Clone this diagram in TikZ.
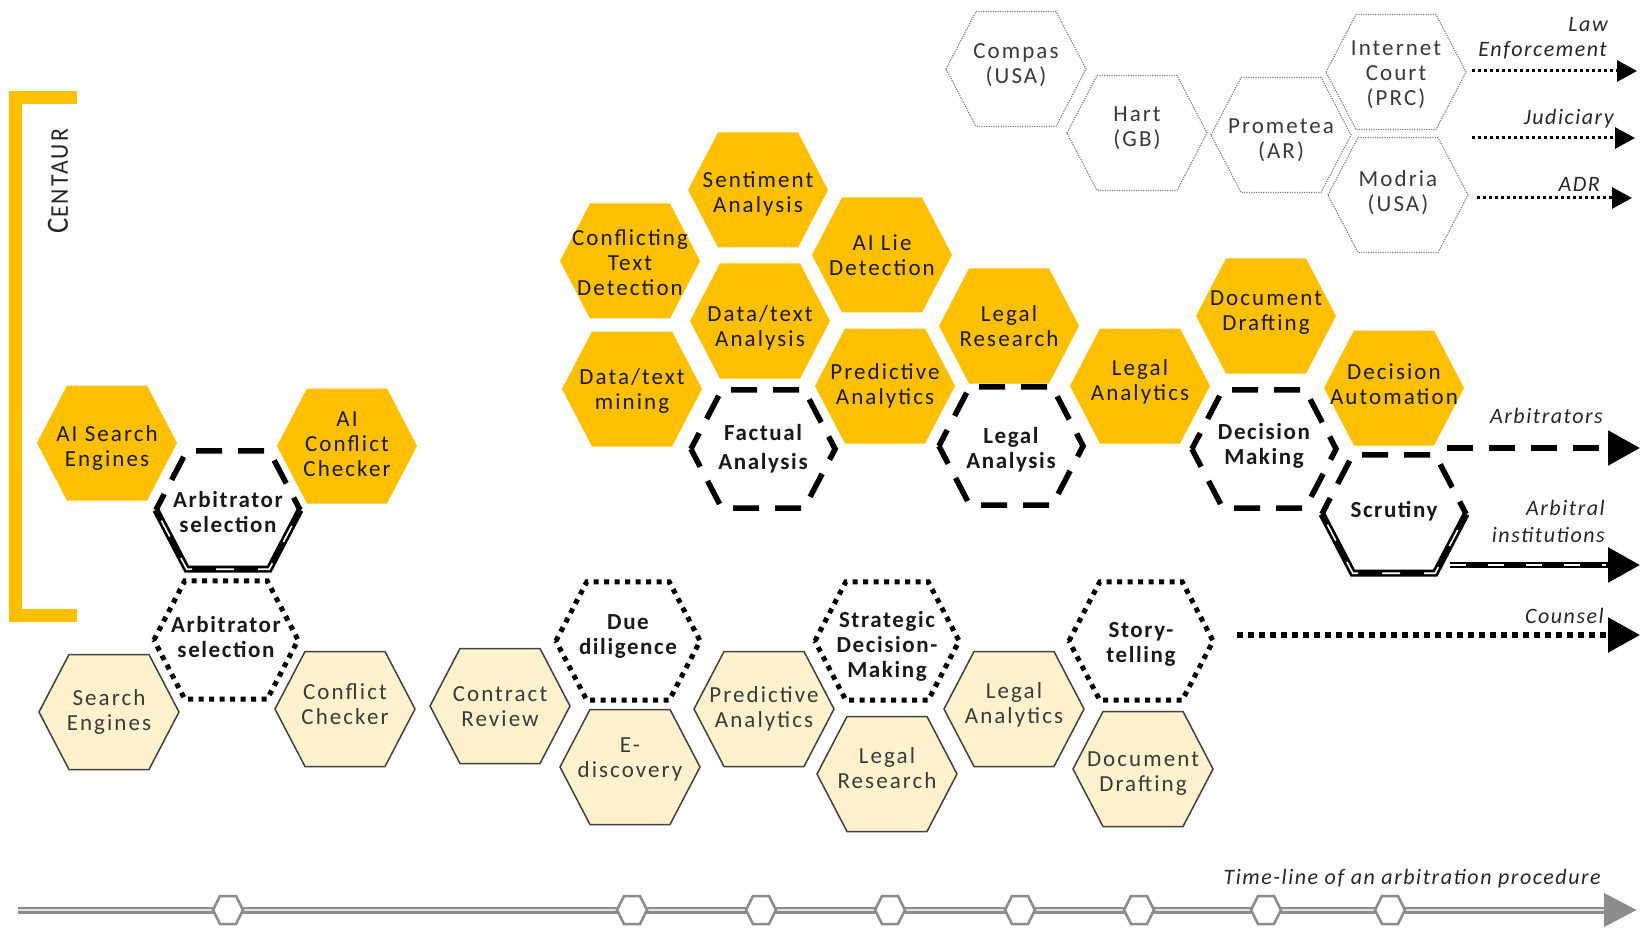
\documentclass[tikz,border=0pt]{standalone}
\usepackage{fontspec}
\usepackage{graphicx}
\setmainfont{Carlito}[LetterSpace=9,BoldFeatures={LetterSpace=7},ItalicFeatures={LetterSpace=7}]
\usetikzlibrary{arrows.meta}
\definecolor{gold}{HTML}{FFC000}
\definecolor{cream}{HTML}{FFF2CC}
\definecolor{edgegray}{HTML}{404040}
\definecolor{txtgray}{HTML}{3A3A3A}
\definecolor{dotgray}{HTML}{7F7F7F}
\definecolor{tlgray}{HTML}{8C8C8C}
\definecolor{tllight}{HTML}{E0E0E0}
\newcommand{\hexpath}[2]{\path[shift={(#2)},#1] (-70,0) -- (-40,-57.5) -- (40,-57.5) -- (70,0) -- (40,57.5) -- (-40,57.5) -- cycle;}
\newcommand{\hexnode}[5]{\hexpath{#1}{#3}\node[#5] (#2) at (#3) {#4};}
\newcommand{\splithex}[1]{%
  \path[shift={(#1)},dhex] (-70,0) -- (-40,-57.5) -- (40,-57.5) -- (70,0);
  \path[shift={(#1)},scale=1.03,draw=black,line width=7] (-70,0) -- (-40,57.5) -- (40,57.5) -- (70,0);
  \path[shift={(#1)},scale=1.03,draw=white,line width=1.6,dash pattern=on 18 off 24,dash phase=-12] (-70,0) -- (-40,57.5) -- (40,57.5) -- (70,0);}
\newcommand{\tlmark}[1]{\path[shift={(#1)},draw=tlgray,fill=white,line width=2.5] (-15,0) -- (-8,-14) -- (8,-14) -- (15,0) -- (8,14) -- (-8,14) -- cycle;}
\begin{document}
\begin{tikzpicture}[x=1pt,y=-1pt,
  yhex/.style={fill=gold},
  chex/.style={fill=cream,draw=edgegray,line width=1.5},
  thex/.style={fill=white,draw=dotgray,line width=1.2,dash pattern=on 1.2 off 1.2},
  dhex/.style={draw=black,line width=5.5,dash pattern=on 26 off 16,dash phase=8,scale=1.03},
  ohex/.style={draw=black,line width=5,dash pattern=on 5 off 5.5,scale=1.03},
  hx/.style={align=center,font=\fontsize{23}{25}\selectfont,inner sep=0pt},
  ytxt/.style={hx,text=black!90},
  ctxt/.style={hx,text=txtgray},
  btxt/.style={hx,font=\fontsize{23}{25}\selectfont\bfseries,text=black!90},
  lab/.style={font=\fontsize{22}{25}\selectfont\itshape,text=black!85,inner sep=0pt,anchor=base east},
  tarrow/.style={draw=black,line width=3,dash pattern=on 3 off 3,-{Triangle[length=20pt,width=21pt]}},
  bigtip/.style={-{Triangle[length=32pt,width=34pt]}}
]
\useasboundingbox (0,0) rectangle (1641,933);

% CENTAUR bracket
\draw[gold,line width=13] (77,98) -- (15,98) -- (15,615) -- (77,615);
\node[rotate=90,inner sep=0pt,text=black!85] (centaur) at (58,181) {\resizebox{104pt}{20pt}{\fontsize{23}{23}\selectfont C\fontsize{19}{19}\selectfont ENTAUR}};

% top-right systems
\hexnode{thex}{compas}{1016,69}{Compas\\(USA)}{ctxt,yshift=4pt}
\hexnode{thex}{hart}{1137,133}{Hart\\(GB)}{ctxt,yshift=5pt}
\hexnode{thex}{prom}{1281,135}{Prometea\\(AR)}{ctxt,yshift=-5pt}
\hexnode{thex}{inet}{1396,72}{Internet\\Court\\(PRC)}{ctxt,yshift=-3pt}
\hexnode{thex}{modria}{1398,195}{Modria\\(USA)}{ctxt,yshift=2pt}

% yellow AI tools
\hexnode{yhex}{sent}{758,190}{Sentiment\\Analysis}{ytxt,yshift=-4pt}
\hexnode{yhex}{conf}{630,261}{Conflicting\\Text\\Detection}{ytxt,yshift=-2pt}
\hexnode{yhex}{lie}{882,255}{AI Lie\\Detection}{ytxt}
\hexnode{yhex}{dta}{760,321}{Data/text\\Analysis}{ytxt,yshift=-7pt}
\hexnode{yhex}{dtm}{632,389}{Data/text\\mining}{ytxt,yshift=-2pt}
\hexnode{yhex}{pra}{885,386}{Predictive\\Analytics}{ytxt}
\hexnode{yhex}{lres}{1009,326}{Legal\\Research}{ytxt}
\hexnode{yhex}{lana}{1140,386}{Legal\\Analytics}{ytxt,yshift=4pt}
\hexnode{yhex}{ddr}{1266,316}{Document\\Drafting}{ytxt,yshift=3pt}
\hexnode{yhex}{dau}{1394,388}{Decision\\Automation}{ytxt,yshift=4pt}
\hexnode{yhex}{aise}{107,443}{AI Search\\Engines}{ytxt,yshift=-5pt}
\hexnode{yhex}{aicc}{347,446}{AI\\Conflict\\Checker}{ytxt,yshift=2pt}

% dashed tasks
\hexnode{dhex}{fact}{763,449}{Factual\\Analysis}{btxt,font=\fontsize{23}{29}\selectfont\bfseries}
\hexnode{dhex}{lanl}{1011,446}{Legal\\Analysis}{btxt,yshift=-4pt}
\hexnode{dhex}{dmk}{1264,449}{Decision\\Making}{btxt,yshift=3pt}
\splithex{228,510}
\node[btxt] (arb1) at (228,512) {Arbitrator\\selection};
\splithex{1394,514}
\node[btxt] (scr) at (1394,511) {Scrutiny};

% dotted tasks
\hexnode{ohex}{arb2}{226,640}{Arbitrator\\selection}{btxt,yshift=3pt}
\hexnode{ohex}{due}{628,641}{Due\\diligence}{btxt,yshift=5pt}
\hexnode{ohex}{sdm}{887,641}{Strategic\\Decision-\\Making}{btxt,yshift=-5pt}
\hexnode{ohex}{story}{1141,641}{Story-\\telling}{btxt,yshift=-3pt}

% light tools
\hexnode{chex}{se}{109,712}{Search\\Engines}{ctxt}
\hexnode{chex}{cc}{345,709}{Conflict\\Checker}{ctxt,yshift=5pt}
\hexnode{chex}{cr}{500,706}{Contract\\Review}{ctxt,yshift=-1pt}
\hexnode{chex}{ed}{630,767}{E-\\discovery}{ctxt,yshift=8pt}
\hexnode{chex}{pa2}{764,709}{Predictive\\Analytics}{ctxt}
\hexnode{chex}{lr2}{887,774}{Legal\\Research}{ctxt,yshift=6pt}
\hexnode{chex}{la2}{1014,709}{Legal\\Analytics}{ctxt,yshift=4pt}
\hexnode{chex}{dd2}{1143,769}{Document\\Drafting}{ctxt,yshift=-5pt}

% top arrows
\coordinate (lawS) at (1472,71); \coordinate (lawE) at (1637,71);
\coordinate (judS) at (1472,138); \coordinate (judE) at (1635,138);
\coordinate (adrS) at (1477,198); \coordinate (adrE) at (1632,198);
\draw[tarrow] (lawS) -- (lawE);
\draw[tarrow] (judS) -- (judE);
\draw[tarrow] (adrS) -- (adrE);
\node[lab] (lawA) at (1608,32) {Law};
\node[lab] (lawB) at (1607,57) {Enforcement};
\node[lab] (judL) at (1614,125) {Judiciary};
\node[lab] (adrL) at (1600,192) {ADR};

% lower arrows
\coordinate (arbS) at (1447,448); \coordinate (arbE) at (1640,448);
\draw[draw=black,line width=5.5,dash pattern=on 26 off 16,bigtip] (arbS) -- (arbE);
\coordinate (insS) at (1450,565); \coordinate (insE) at (1640,565); \coordinate (insM) at (1606,565);
\draw[draw=black,line width=6,bigtip] (insS) -- (insE);
\draw[draw=white,line width=1.5,dash pattern=on 16 off 22] (insS) -- (insM);
\coordinate (couS) at (1237,635); \coordinate (couE) at (1640,635);
\draw[draw=black,line width=5.5,dash pattern=on 5.5 off 5.5,bigtip] (couS) -- (couE);
\node[lab] (arbL) at (1603,423) {Arbitrators};
\node[lab] (insL1) at (1605,515) {Arbitral};
\node[lab] (insL2) at (1605,542) {institutions};
\node[lab] (couL) at (1604,623) {Counsel};

% timeline
\coordinate (tlS) at (18,910); \coordinate (tlE) at (1637,910); \coordinate (tlM) at (1604,910);
\draw[draw=tlgray,line width=7,-{Triangle[length=33pt,width=32pt]}] (tlS) -- (tlE);
\draw[draw=tllight,line width=2] (tlS) -- (tlM);
\foreach \mx in {228,632,761,890,1020,1139,1266,1390} {\tlmark{\mx,910}}
\node[lab] (tlL) at (1601,884) {Time-line of an arbitration procedure};
\end{tikzpicture}
\end{document}
